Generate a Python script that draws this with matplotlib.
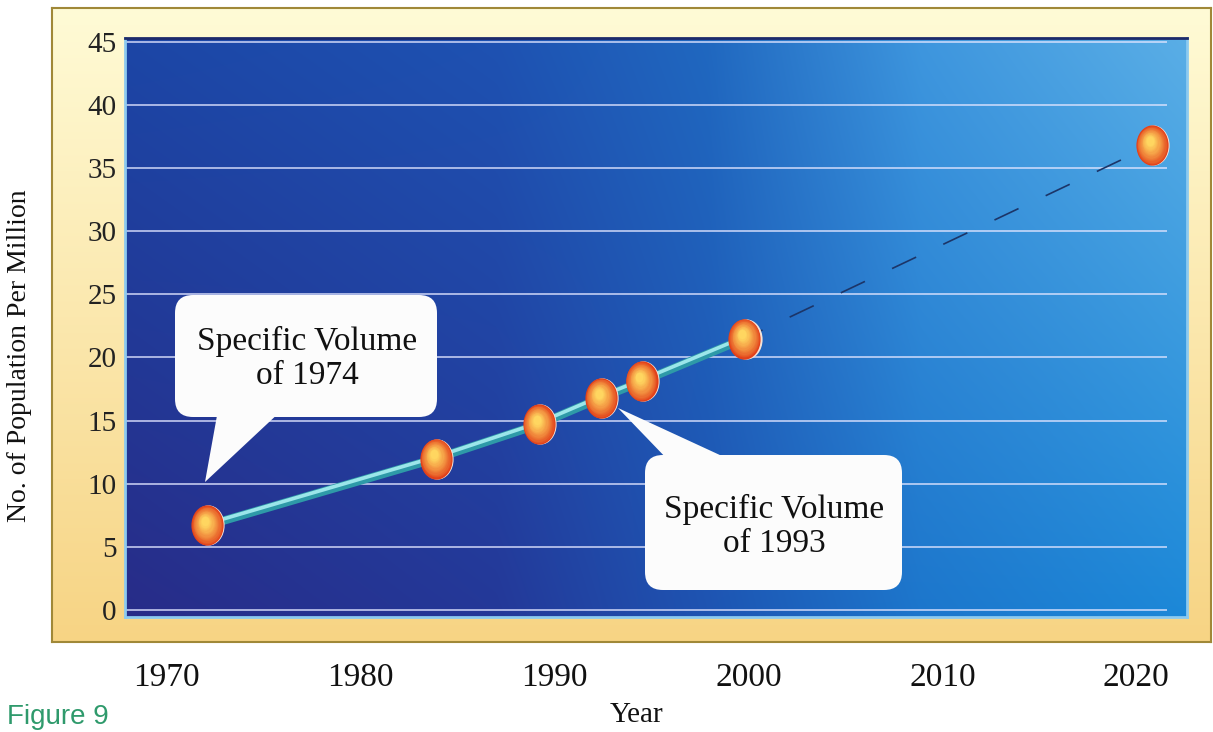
import numpy as np
import matplotlib
matplotlib.use("Agg")
import matplotlib.pyplot as plt
from matplotlib.path import Path
from matplotlib.patches import FancyBboxPatch, Polygon
from matplotlib import transforms

plt.rcParams['font.family'] = ['Liberation Serif', 'DejaVu Serif']

# values
years = [1972.1, 1983.9, 1989.2, 1992.4, 1994.5, 1999.8, 2020.8]
values = [6.7, 12.0, 14.7, 16.8, 18.1, 21.5, 36.8]
n_solid = 6  # first six joined by the solid line, the last one is the projection
x_ticks = [1970, 1980, 1990, 2000, 2010, 2020]
y_ticks = [0, 5, 10, 15, 20, 25, 30, 35, 40, 45]
notes = ["Specific Volume\nof 1974", "Specific Volume\nof 1993"]

W, H = 1213, 732
fig = plt.figure(figsize=(W / 100, H / 100), dpi=100)
fig.patch.set_facecolor("white")


def fx(x):
    return x / W


def fy(y):
    return 1 - y / H


# pixel coords, origin top-left
pix = transforms.Affine2D().scale(0.01, -0.01).translate(0, H / 100) + fig.dpi_scale_trans

# yellow frame
frame = fig.add_axes([fx(52), fy(642), (1211 - 52) / W, (642 - 8) / H], zorder=-1)
g = np.linspace(0, 1, 256)[:, None, None]
c_top = np.array([255, 251, 214]) / 255
c_bot = np.array([247, 212, 132]) / 255
frame.imshow(c_top * (1 - g) + c_bot * g, extent=[0, 1, 0, 1], aspect='auto')
frame.set_xticks([])
frame.set_yticks([])
for sp in frame.spines.values():
    sp.set_color('#a08838')
    sp.set_linewidth(1.5)

# main plot area
ax = fig.add_axes([fx(125), fy(617), (1187 - 125) / W, (617 - 38) / H])
x0, x1 = 1967.87, 2022.61
y0, y1 = -0.55, 45.3

# blue background: colour stops along x for the top and bottom rows
stops = [0.0, 0.35, 0.55, 0.75, 1.0]
top_rgb = np.array([[28, 70, 166], [30, 82, 178], [32, 104, 192], [62, 150, 222], [90, 174, 230]])
bot_rgb = np.array([[40, 44, 136], [36, 56, 152], [30, 84, 178], [28, 118, 204], [28, 136, 216]])
sx = np.linspace(0, 1, 500)
top_row = np.stack([np.interp(sx, stops, top_rgb[:, k]) for k in range(3)], axis=-1) / 255
bot_row = np.stack([np.interp(sx, stops, bot_rgb[:, k]) for k in range(3)], axis=-1) / 255
t = np.linspace(1, 0, 200)[:, None, None]
blue = top_row[None] * t + bot_row[None] * (1 - t)
ax.imshow(blue, extent=[x0, x1, y0, y1], aspect='auto', zorder=0, interpolation='bilinear')
ax.set_xlim(x0, x1)
ax.set_ylim(y0, y1)

ax.hlines(y_ticks, x0, 2021.6, colors='#dfe4ff', lw=1.2, alpha=0.85, zorder=1)

# trend line
ax.plot(years[:n_solid], values[:n_solid], color='#2e9aa8', lw=6,
        solid_capstyle='round', zorder=3)
hl = transforms.offset_copy(ax.transData, fig=fig, x=0, y=1.2, units='points')
ax.plot(years[:n_solid], values[:n_solid], color='#9be6ea', lw=2.6,
        transform=hl, zorder=3.5)
ax.plot(years[n_solid - 1:], values[n_solid - 1:], color='#1c3568', lw=1.2,
        ls=(4, (16, 18)), zorder=2)

# orange balls, shaded with stacked ellipses
circ = Path.unit_circle()
egg = Path(circ.vertices * [0.8, 1.0], circ.codes)
tr = transforms.offset_copy(ax.transData, fig=fig, x=0.9, y=0, units='points')
ax.plot(years, values, ls='none', marker=egg, ms=29, color='#f4e2d6', mec='none',
        transform=tr, zorder=4)
c_out = np.array([226, 64, 26]) / 255
c_in = np.array([255, 214, 96]) / 255
n_lay = 14
for i in range(n_lay):
    f = i / (n_lay - 1)
    col = c_out * (1 - f ** 0.8) + c_in * f ** 0.8
    ms = 29 * (1 - 0.76 * f)
    tr = transforms.offset_copy(ax.transData, fig=fig, x=-1.6 * f, y=3.0 * f, units='points')
    ax.plot(years, values, ls='none', marker=egg, ms=ms, color=col, mec='none',
            transform=tr, zorder=4)

ax.set_xticks(x_ticks)
ax.set_xticklabels([str(v) for v in x_ticks])
ax.set_yticks(y_ticks)
ax.tick_params(axis='x', length=0, pad=33, labelsize=24, labelcolor='#111111')
ax.tick_params(axis='y', length=0, pad=6, labelsize=21, labelcolor='#222222')
for side in ['left', 'bottom', 'right']:
    ax.spines[side].set_color('#8ccaf0')
    ax.spines[side].set_linewidth(2)
ax.spines['top'].set_color('#1d2a6a')
ax.spines['top'].set_linewidth(2)


# speech bubbles
def callout(box, tail, text, tx, ty):
    bx0, by0, bx1, by1 = box
    fig.add_artist(FancyBboxPatch((bx0, by0), bx1 - bx0, by1 - by0,
                                  boxstyle='round,pad=0,rounding_size=18',
                                  transform=pix, fc='#fcfcfc', ec='none', zorder=5))
    fig.add_artist(Polygon(tail, closed=True, transform=pix, fc='#fcfcfc',
                           ec='none', zorder=5))
    fig.text(fx(tx), fy(ty), text, ha='center', va='center', fontsize=24,
             linespacing=1.15, color='#111111', zorder=6)


callout((175, 295, 437, 417), [(218, 410), (282, 410), (205, 482)], notes[0], 307, 358)
callout((645, 455, 902, 590), [(670, 462), (735, 462), (618, 408)], notes[1], 774, 526)

fig.text(fx(20), fy(356), "No. of Population Per Million", rotation=90,
         ha='center', va='center', fontsize=20, color='#111111')
fig.text(fx(637), fy(722), "Year", ha='center', va='baseline', fontsize=21, color='#111111')
fig.text(fx(7), fy(724), "Figure 9", ha='left', va='baseline', fontsize=20,
         family='Liberation Sans', color='#2f9a6c')

fig.savefig('out.png', dpi=100)
